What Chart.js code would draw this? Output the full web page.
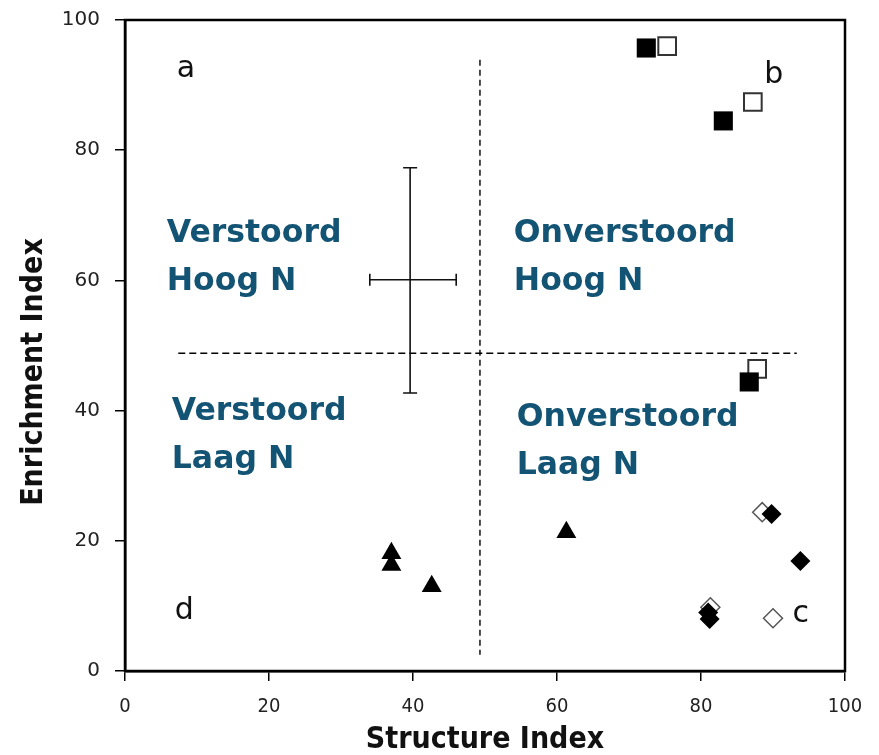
<!DOCTYPE html>
<html>
<head>
<meta charset="utf-8">
<script src="https://cdn.jsdelivr.net/npm/chart.js@4/dist/chart.umd.min.js"></script>
<style>
  html, body { margin: 0; padding: 0; background: #fff; }
  #wrap { width: 879px; height: 755px; position: relative; }
</style>
</head>
<body>
<div id="wrap"><canvas id="chart"></canvas></div>
<script>
(function () {
  "use strict";

  // ── Data (Structure Index, Enrichment Index) ──
  var filledSquaresX = [72.4, 83.1, 86.7];
  var filledSquaresY = [95.7, 84.5, 44.4];
  var openSquaresX = [75.3, 87.2, 87.8];
  var openSquaresY = [96.0, 87.4, 46.4];
  var filledDiamondsX = [89.8, 93.8, 81.0, 81.2];
  var filledDiamondsY = [24.1, 16.9, 9.0, 8.0];
  var openDiamondsX = [88.5, 81.3, 90.0];
  var openDiamondsY = [24.4, 9.8, 8.1];
  var trianglesX = [37.0, 37.0, 42.6, 61.3];
  var trianglesY = [18.1, 16.3, 13.0, 21.3];

  // mean with error range: [low, mean, high]
  var errorBarX = [34.0, 39.6, 46.0];
  var errorBarY = [42.7, 60.1, 77.3];

  // quadrant dividers
  var dividerVX = [49.3, 49.3];
  var dividerVY = [93.9, 2.5];
  var dividerHX = [7.4, 93.3];
  var dividerHY = [48.8, 48.8];

  var xTicks = [0, 20, 40, 60, 80, 100];
  var yTicks = [0, 20, 40, 60, 80, 100];

  var panelLetters = ["a", "b", "c", "d"];
  var panelLetterX = [7.2, 88.8, 92.7, 6.9];
  var panelLetterY = [91.3, 90.3, 7.6, 8.0];

  var quadrantLines = [["Verstoord", "Hoog N"], ["Onverstoord", "Hoog N"], ["Verstoord", "Laag N"], ["Onverstoord", "Laag N"]];
  var quadrantX = [5.8, 54.0, 6.5, 54.4];
  var quadrantY = [65.9, 65.9, 38.6, 37.7];

  var yTitle = "Enrichment Index";

  function pts(xs, ys) {
    return xs.map(function (x, i) { return { x: x, y: ys[i] }; });
  }

  var INK = "#000";
  var TEXT_BLUE = "#135373";
  var TITLE_FONT = "'DejaVu Sans Condensed', 'Liberation Sans Narrow', sans-serif";

  // ── Plugin: frame, error bar, text ──
  var extras = {
    id: "extras",
    afterDraw: function (chart) {
      var ctx = chart.ctx, a = chart.chartArea;
      var sx = chart.scales.x, sy = chart.scales.y;
      ctx.save();

      // frame
      ctx.strokeStyle = INK;
      ctx.lineWidth = 2.5;
      ctx.strokeRect(a.left, a.top, a.right - a.left, a.bottom - a.top);

      // error bar
      var cx = sx.getPixelForValue(errorBarX[1]), cy = sy.getPixelForValue(errorBarY[1]);
      var x0 = sx.getPixelForValue(errorBarX[0]), x1 = sx.getPixelForValue(errorBarX[2]);
      var y0 = sy.getPixelForValue(errorBarY[0]), y1 = sy.getPixelForValue(errorBarY[2]);
      ctx.strokeStyle = "#111";
      ctx.lineWidth = 1.6;
      ctx.beginPath();
      ctx.moveTo(cx, y0); ctx.lineTo(cx, y1);
      ctx.moveTo(cx - 7, y0); ctx.lineTo(cx + 7, y0);
      ctx.moveTo(cx - 7, y1); ctx.lineTo(cx + 7, y1);
      ctx.moveTo(x0, cy); ctx.lineTo(x1, cy);
      ctx.moveTo(x0, cy - 6); ctx.lineTo(x0, cy + 6);
      ctx.moveTo(x1, cy - 6); ctx.lineTo(x1, cy + 6);
      ctx.stroke();

      // panel letters
      ctx.fillStyle = "#111";
      ctx.font = "30px 'DejaVu Sans', Verdana, sans-serif";
      ctx.textAlign = "left";
      ctx.textBaseline = "alphabetic";
      panelLetters.forEach(function (t, i) {
        ctx.fillText(t, sx.getPixelForValue(panelLetterX[i]), sy.getPixelForValue(panelLetterY[i]));
      });

      // quadrant labels
      ctx.fillStyle = TEXT_BLUE;
      ctx.font = "bold 31.5px 'DejaVu Sans', Verdana, sans-serif";
      quadrantLines.forEach(function (lines, i) {
        var px = sx.getPixelForValue(quadrantX[i]), py = sy.getPixelForValue(quadrantY[i]);
        lines.forEach(function (line, j) {
          ctx.fillText(line, px, py + j * 48);
        });
      });

      // y axis title (sits a little below centre in the original)
      ctx.fillStyle = "#111";
      ctx.font = "bold 30px " + TITLE_FONT;
      ctx.textAlign = "center";
      ctx.textBaseline = "middle";
      ctx.translate(34, 372);
      ctx.rotate(-Math.PI / 2);
      ctx.fillText(yTitle, 0, 0);
      ctx.restore();
    }
  };

  var canvas = document.getElementById("chart");
  canvas.width = 879; canvas.height = 755;

  new Chart(canvas, {
    type: "scatter",
    data: {
      datasets: [
        { label: "filled squares", data: pts(filledSquaresX, filledSquaresY), pointStyle: "rect", pointRadius: 13.5, backgroundColor: "#000", borderColor: "#000", borderWidth: 0, order: 1 },
        { label: "open squares", data: pts(openSquaresX, openSquaresY), pointStyle: "rect", pointRadius: 12.5, backgroundColor: "#fff", borderColor: "#333", borderWidth: 2, order: 2 },
        { label: "filled diamonds", data: pts(filledDiamondsX, filledDiamondsY), pointStyle: "rectRot", pointRadius: 10, backgroundColor: "#000", borderColor: "#000", borderWidth: 0, order: 1 },
        { label: "open diamonds", data: pts(openDiamondsX, openDiamondsY), pointStyle: "rectRot", pointRadius: 9.5, backgroundColor: "#fff", borderColor: "#555", borderWidth: 1.5, order: 2 },
        { label: "triangles", data: pts(trianglesX, trianglesY), pointStyle: "triangle", pointRadius: 11.5, backgroundColor: "#000", borderColor: "#000", borderWidth: 0, order: 1 },
        { label: "divider v", data: pts(dividerVX, dividerVY), showLine: true, pointRadius: 0, borderColor: "#000", borderWidth: 1.4, borderDash: [6, 4], order: 3 },
        { label: "divider h", data: pts(dividerHX, dividerHY), showLine: true, pointRadius: 0, borderColor: "#000", borderWidth: 1.4, borderDash: [7, 4], order: 3 }
      ]
    },
    options: {
      responsive: false,
      animation: false,
      events: [],
      layout: { padding: { top: 20, right: 34, left: 0, bottom: 0 } },
      plugins: { legend: { display: false }, tooltip: { enabled: false } },
      scales: {
        x: {
          type: "linear", min: 0, max: 100,
          afterBuildTicks: function (s) { s.ticks = xTicks.map(function (v) { return { value: v }; }); },
          afterFit: function (s) { s.height = 84; s.paddingLeft = 0; s.paddingRight = 0; },
          grid: { drawOnChartArea: false, drawTicks: true, tickLength: 10, color: INK, lineWidth: 1.5 },
          border: { display: true, color: INK, width: 2.5 },
          ticks: { color: "#222", padding: 14, maxRotation: 0, font: { family: TITLE_FONT, size: 20 } },
          title: { display: true, text: "Structure Index", color: "#111", padding: { top: 0, bottom: 0 }, font: { family: TITLE_FONT, size: 30, weight: "bold", lineHeight: 1.0 } }
        },
        y: {
          type: "linear", min: 0, max: 100,
          afterBuildTicks: function (s) { s.ticks = yTicks.map(function (v) { return { value: v }; }); },
          afterFit: function (s) { s.width = 125; s.paddingTop = 0; s.paddingBottom = 0; },
          grid: { drawOnChartArea: false, drawTicks: true, tickLength: 10, color: INK, lineWidth: 1.5 },
          border: { display: true, color: INK, width: 2.5 },
          ticks: { color: "#222", padding: 15, font: { family: "'DejaVu Sans', Verdana, sans-serif", size: 20 } }
        }
      }
    },
    plugins: [extras]
  });
})();
</script>
</body>
</html>
